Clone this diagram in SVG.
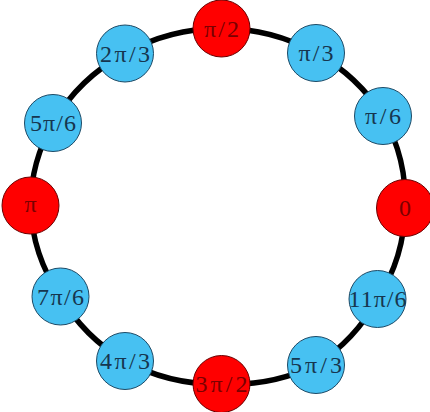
<svg xmlns="http://www.w3.org/2000/svg" width="430" height="412" viewBox="0 0 430 412">
<style>
.edge{fill:none;stroke:#000;stroke-width:5.5}
.b circle{fill:#47c1f2;stroke:#1d4a66;stroke-width:1}
.r circle{fill:#ff0000;stroke:#6a0000;stroke-width:1}
text{font-family:"Liberation Serif","DejaVu Serif",serif;font-size:24px;text-anchor:middle}
.b text{fill:#16364f}
.r text{fill:#7a0000}
</style>
<rect width="430" height="412" fill="#fff"/>
<g id="connectors">
<path class="edge" d="M405 208 A187 178 0 0 0 383 116"/>
<path class="edge" d="M383 116 A187 178 0 0 0 316 53"/>
<path class="edge" d="M316 53 A187 178 0 0 0 221.5 28.5"/>
<path class="edge" d="M221.5 28.5 A187 178 0 0 0 125 53.5"/>
<path class="edge" d="M125 53.5 A187 178 0 0 0 53 123"/>
<path class="edge" d="M53 123 A187 178 0 0 0 30.5 205.5"/>
<path class="edge" d="M30.5 205.5 A187 178 0 0 0 60.5 296.5"/>
<path class="edge" d="M60.5 296.5 A187 178 0 0 0 125 361"/>
<path class="edge" d="M125 361 A187 178 0 0 0 221.5 384"/>
<path class="edge" d="M221.5 384 A187 178 0 0 0 316 365"/>
<path class="edge" d="M316 365 A187 178 0 0 0 377.5 299"/>
<path class="edge" d="M377.5 299 A187 178 0 0 0 405 208"/>
</g>
<g id="n0" class="r"><circle cx="405" cy="208" r="28.5"/><text x="405" y="216">0</text></g>
<g id="n1" class="b"><circle cx="383" cy="116" r="28.5"/><text x="383" y="124" textLength="36" lengthAdjust="spacing">π/6</text></g>
<g id="n2" class="b"><circle cx="316" cy="53" r="28.5"/><text x="316" y="61" textLength="35" lengthAdjust="spacing">π/3</text></g>
<g id="n3" class="r"><circle cx="221.5" cy="28.5" r="28.5"/><text x="221.5" y="36.5" textLength="35" lengthAdjust="spacing">π/2</text></g>
<g id="n4" class="b"><circle cx="125" cy="53.5" r="28.5"/><text x="125" y="61.5" textLength="50" lengthAdjust="spacing">2π/3</text></g>
<g id="n5" class="b"><circle cx="53" cy="123" r="28.5"/><text x="53" y="131" textLength="46" lengthAdjust="spacing">5π/6</text></g>
<g id="n6" class="r"><circle cx="30.5" cy="205.5" r="28.5"/><text x="30.5" y="211.5">π</text></g>
<g id="n7" class="b"><circle cx="60.5" cy="296.5" r="28.5"/><text x="60.5" y="304.5" textLength="47" lengthAdjust="spacing">7π/6</text></g>
<g id="n8" class="b"><circle cx="125" cy="361" r="28.5"/><text x="125" y="369" textLength="50" lengthAdjust="spacing">4π/3</text></g>
<g id="n9" class="r"><circle cx="221.5" cy="384" r="28.5"/><text x="221.5" y="392" textLength="52" lengthAdjust="spacing">3π/2</text></g>
<g id="n10" class="b"><circle cx="316" cy="365" r="28.5"/><text x="316" y="373" textLength="52" lengthAdjust="spacing">5π/3</text></g>
<g id="n11" class="b"><circle cx="377.5" cy="299" r="28.5"/><text x="377.5" y="307" textLength="58" lengthAdjust="spacing">11π/6</text></g>
</svg>
